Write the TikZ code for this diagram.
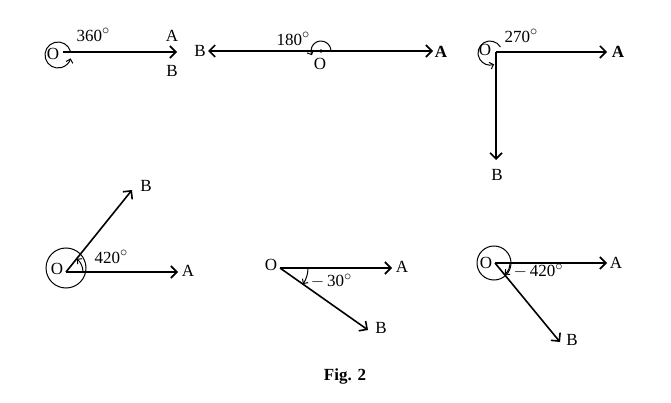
\documentclass[tikz,border=0pt]{standalone}
\usepackage{fontspec}
\setmainfont{Liberation Serif}
\usetikzlibrary{arrows.meta}
\newcommand{\degsign}{\raisebox{0.8ex}{\fontsize{15}{15}\selectfont$\circ$}}

\begin{document}
\begin{tikzpicture}
    [
    x=1pt, y=1pt,
    vec/.style={line width=1.6pt,-{Straight Barb[length=6pt,width=12pt]}},
    turn/.style={line width=1pt,-{Straight Barb[length=3.5pt,width=7pt]}},
    lbl/.style={inner sep=0pt,font=\fontsize{17}{19}\selectfont},
    ]
    \useasboundingbox (0,0) rectangle (671,-403);
    % 360 degrees
    \coordinate (O1) at (63,-52);
    \coordinate (A1) at (177,-52);
    \coordinate (c1) at (58,-55);
    \node[lbl] (o1) at (53,-54) {O};
    \node[lbl] (a1) at (172,-36) {A};
    \node[lbl] (b1) at (172,-71) {B};
    \node[lbl] (t1) at (93,-35) {360\degsign};
    \draw[vec] (O1) -- (A1);
    \draw[turn] (c1) ++(15:13) arc[start angle=15,end angle=345,radius=13];
    % 180 degrees
    \coordinate (O2) at (321,-51);
    \coordinate (A2) at (433,-51);
    \coordinate (B2) at (208,-51);
    \node[lbl] (o2) at (320,-64) {O};
    \node[lbl] (a2) at (441,-52) {\textbf{A}};
    \node[lbl] (b2) at (200,-51) {B};
    \node[lbl] (t2) at (293,-39) {180\degsign};
    \draw[vec] (O2) -- (A2);
    \draw[vec] (O2) -- (B2);
    \fill (O2) circle[radius=1.8];
    \draw[turn] (O2) ++(5:10) arc[start angle=5,end angle=205,radius=10];
    % 270 degrees
    \coordinate (O3) at (496,-52);
    \coordinate (A3) at (607,-52);
    \coordinate (B3) at (496,-160);
    \coordinate (c3) at (490,-53);
    \node[lbl] (o3) at (485,-50) {O};
    \node[lbl] (a3) at (618,-52) {\textbf{A}};
    \node[lbl] (b3) at (497,-175) {B};
    \node[lbl] (t3) at (521,-36) {270\degsign};
    \draw[vec] (O3) -- (A3);
    \draw[vec] (O3) -- (B3);
    \draw[turn] (c3) ++(30:12) arc[start angle=30,end angle=290,radius=12];
    % 420 degrees
    \coordinate (O4) at (66,-272);
    \coordinate (A4) at (178,-272);
    \coordinate (B4) at (132,-190);
    \coordinate (c4) at (66,-268);
    \node[lbl] (o4) at (57,-269) {O};
    \node[lbl] (a4) at (188,-271) {A};
    \node[lbl] (b4) at (146,-186) {B};
    \node[lbl] (t4) at (111,-257) {420\degsign};
    \draw[vec] (O4) -- (A4);
    \draw[vec] (O4) -- (B4);
    \draw[line width=1pt] (c4) circle[radius=20];
    \draw[turn] (O4) ++(0:17) arc[start angle=0,end angle=51,radius=17];
    % -30 degrees
    \coordinate (O5) at (280,-268);
    \coordinate (A5) at (392,-268);
    \coordinate (B5) at (368,-330);
    \node[lbl] (o5) at (271,-265) {O};
    \node[lbl] (a5) at (402,-267) {A};
    \node[lbl] (b5) at (381,-328) {B};
    \node[lbl] (t5) at (331,-281) {$-$\,30\degsign};
    \draw[vec] (O5) -- (A5);
    \draw[vec] (O5) -- (B5);
    \draw[turn] (O5) ++(0:28) arc[start angle=0,end angle=-35,radius=28];
    % -420 degrees
    \coordinate (O6) at (495,-263);
    \coordinate (A6) at (607,-263);
    \coordinate (B6) at (560,-342);
    \coordinate (c6) at (494,-263);
    \node[lbl] (o6) at (486,-263) {O};
    \node[lbl] (a6) at (616,-263) {A};
    \node[lbl] (b6) at (572,-340) {B};
    \node[lbl] (t6) at (538,-271) {$-$\,420\degsign};
    \draw[vec] (O6) -- (A6);
    \draw[vec] (O6) -- (B6);
    \draw[line width=1pt] (c6) circle[radius=17];
    \draw[turn] (O6) ++(0:15) arc[start angle=0,end angle=-50,radius=15];
    % caption
    \node[lbl] (cap) at (345,-376) {\textbf{Fig. 2}};
\end{tikzpicture}
\end{document}
